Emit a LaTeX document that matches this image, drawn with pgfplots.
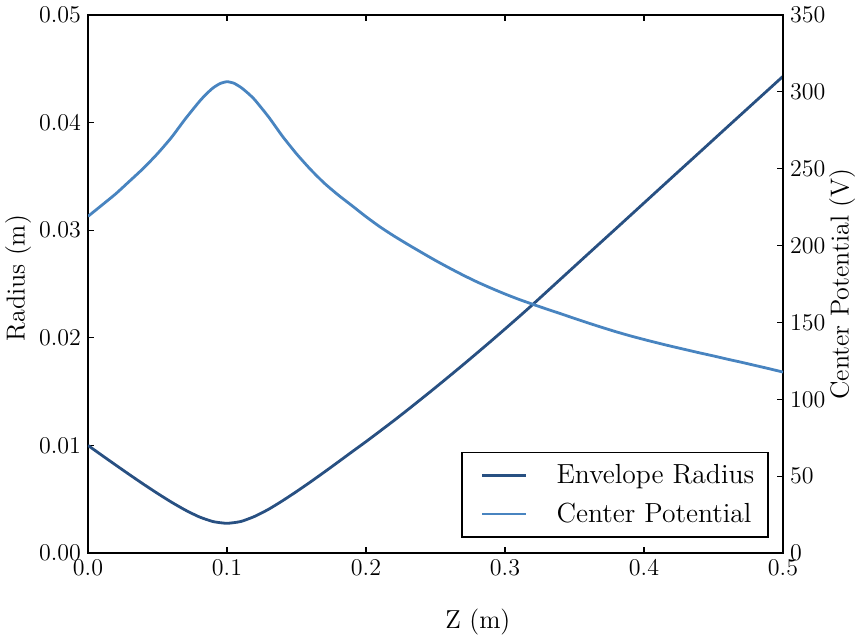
\documentclass[border=0pt]{standalone}
\usepackage{pgfplots}
\pgfplotsset{compat=1.18}
\definecolor{darkb}{RGB}{40,80,130}
\definecolor{lightb}{RGB}{72,132,192}

\pgfplotstableread{
x r
0.00 0.01000
0.01 0.00908
0.02 0.00817
0.03 0.00727
0.04 0.00639
0.05 0.00554
0.06 0.00473
0.07 0.00399
0.08 0.00336
0.09 0.00292
0.10 0.00276
0.11 0.00293
0.12 0.00341
0.13 0.00407
0.14 0.00486
0.15 0.00571
0.16 0.00660
0.17 0.00752
0.18 0.00846
0.19 0.00941
0.20 0.01035
0.21 0.01132
0.22 0.01230
0.23 0.01331
0.24 0.01434
0.25 0.01538
0.26 0.01644
0.27 0.01751
0.28 0.01860
0.29 0.01970
0.30 0.02082
0.31 0.02195
0.32 0.02310
0.34 0.02546
0.36 0.02782
0.38 0.03017
0.40 0.03253
0.42 0.03489
0.44 0.03724
0.46 0.03960
0.48 0.04195
0.50 0.04430
}\radius

\pgfplotstableread{
x v
0.00  219.0
0.01  226.3
0.02  233.7
0.03  242.0
0.04  250.4
0.05  259.8
0.06  270.3
0.07  282.4
0.08  293.6
0.085 298.5
0.09  302.6
0.095 305.4
0.10  306.6
0.105 305.6
0.11  302.9
0.115 299.2
0.12  294.8
0.13  283.6
0.14  271.0
0.15  259.7
0.16  249.6
0.17  240.6
0.18  232.9
0.19  225.9
0.20  218.8
0.21  212.2
0.22  206.3
0.23  200.8
0.24  195.5
0.25  190.3
0.26  185.4
0.27  180.7
0.28  176.3
0.29  172.3
0.30  168.5
0.31  165.0
0.32  161.8
0.33  158.7
0.34  155.7
0.35  152.6
0.36  149.6
0.37  146.7
0.38  143.9
0.39  141.3
0.40  138.9
0.41  136.6
0.42  134.4
0.43  132.3
0.44  130.2
0.45  128.2
0.46  126.1
0.47  124.1
0.48  122.0
0.49  119.9
0.50  117.7
}\potential

\begin{document}
\begin{tikzpicture}
\useasboundingbox (-44pt,-42.5pt) rectangle (386pt,276.5pt);
\pgfplotsset{
  common/.style={
    scale only axis, width=347.5pt, height=269pt,
    xmin=0, xmax=0.5, ymin=0,
    axis line style={line width=0.8pt},
    tick style={line width=0.6pt, black},
    major tick length=3pt,
    ticklabel style={font=\fontsize{12}{14}\selectfont},
    label style={font=\fontsize{13}{15}\selectfont},
    scaled ticks=false,
  }
}
\begin{axis}[common, ymax=0.05,
  tick align=inside,
  xtick={0,0.1,0.2,0.3,0.4,0.5},
  ytick={0,0.01,0.02,0.03,0.04,0.05},
  xtick pos=both, ytick pos=left,
  xticklabel style={/pgf/number format/.cd,fixed,fixed zerofill,precision=1},
  yticklabel style={/pgf/number format/.cd,fixed,fixed zerofill,precision=2},
  xlabel={Z (m)}, ylabel={Radius (m)},
  xlabel style={at={(axis description cs:0.561,-0.1283)}, anchor=center},
  ylabel style={at={(axis description cs:-0.1007,0.511)}, anchor=center},
]
\addplot[darkb, line width=1.4pt, line join=round, smooth, tension=0.35] table[x=x,y=r] {\radius};
\end{axis}
\begin{axis}[common, ymax=350,
  axis x line=none, axis y line*=right,
  tick align=inside,
  ytick={0,50,100,150,200,250,300,350},
  ylabel={Center Potential (V)},
  ylabel style={at={(axis description cs:1.0849,0.5)}, anchor=center},
  legend style={at={(rel axis cs:1,0)}, anchor=south east, xshift=-7pt, yshift=7.5pt,
    draw=black, line width=0.8pt, inner xsep=7pt, inner ysep=4pt,
    font=\fontsize{13.8}{16}\selectfont, column sep=0pt, row sep=4pt,
    nodes={inner xsep=0pt}},
  legend cell align=left,
  legend image code/.code={\draw[#1, line width=1.4pt] (3pt,0pt) -- (25pt,0pt); \path[draw=none] (0pt,0pt) -- (40.3pt,0pt);},
]
\addlegendimage{darkb}
\addlegendentry{Envelope Radius}
\addplot[lightb, line width=1.4pt, line join=round, smooth, tension=0.35] table[x=x,y=v] {\potential};
\addlegendentry{Center Potential}
\end{axis}
\end{tikzpicture}
\end{document}
